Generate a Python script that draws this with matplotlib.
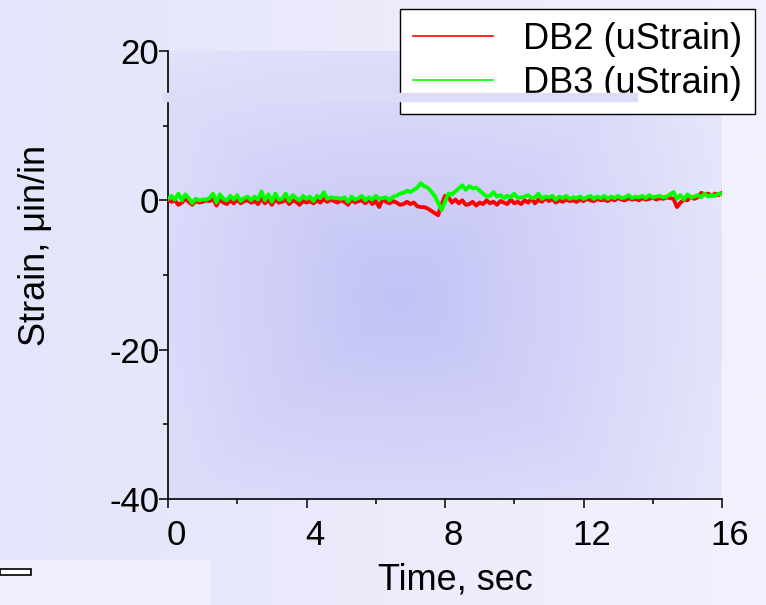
import numpy as np
import matplotlib
matplotlib.use('Agg')
import matplotlib.pyplot as plt
from matplotlib.patches import Rectangle
from matplotlib.transforms import ScaledTranslation

plt.rcParams['font.family'] = ['Liberation Sans', 'DejaVu Sans']
plt.rcParams['axes.unicode_minus'] = False

# strain readings, one row per second (0.1 s steps)
SAMPLE_STEP = 0.1
db2 = [
    0.1, -0.2, 0.0, -0.6, -0.3, 0.2, -0.2, -0.6, -0.1, -0.3,
    -0.2, 0.0, -0.1, 0.2, -0.7, 0.1, -0.3, -0.5, 0.0, -0.4,
    0.1, -0.4, -0.1, 0.0, -0.3, -0.1, -0.5, 0.3, -0.4, 0.1,
    -0.6, 0.2, -0.3, -0.2, 0.1, -0.5, 0.0, -0.2, -0.6, -0.1,
    -0.3, -0.1, -0.4, 0.0, -0.3, 0.2, -0.2, 0.1, -0.1, -0.3,
    0.0, -0.2, -0.6, 0.1, -0.3, -0.1, 0.0, -0.4, 0.1, -0.5,
    -0.1, -0.9, 0.2, -0.2, -0.4, -0.1, -0.3, -0.6, -0.5, -0.2,
    -0.5, -0.3, -0.8, -0.9, -0.9, -1.1, -1.4, -1.7, -2.0, -0.6,
    0.6, 0.4, -0.3, 0.1, -0.4, 0.0, -0.6, -0.5, -0.2, -0.7,
    -0.3, -0.5, 0.0, -0.4, -0.2, -0.6, -0.1, -0.3, -0.5, 0.1,
    -0.4, -0.2, -0.5, 0.0, -0.3, 0.2, -0.4, 0.1, -0.2, 0.3,
    -0.1, 0.2, -0.3, 0.0, -0.2, 0.1, -0.1, 0.0, -0.2, 0.1,
    -0.1, 0.2, 0.0, -0.1, 0.2, 0.0, 0.1, -0.1, 0.2, 0.0,
    0.3, 0.1, 0.0, 0.3, 0.1, 0.2, 0.0, 0.3, 0.1, 0.2,
    0.4, 0.1, 0.3, 0.2, 0.4, 0.3, 0.2, -0.9, -0.3, 0.1,
    0.0, 0.5, 0.2, 0.4, 1.0, 0.8, 0.9, 0.6, 0.9, 0.7,
    1.0,
]
db3 = [
    0.2, 0.6, 0.1, 0.9, 0.0, 0.8, 0.3, -0.4, 0.2, 0.0,
    0.1, 0.1, 0.3, 0.9, -0.3, 0.8, 0.2, 0.0, 0.6, 0.1,
    0.7, -0.1, 0.3, 0.5, 0.0, 0.5, 0.1, 1.2, 0.0, 0.8,
    -0.2, 0.9, 0.1, 0.2, 0.9, -0.1, 0.7, 0.3, 0.0, 0.6,
    0.2, 0.5, -0.1, 0.6, 0.3, 1.1, 0.2, 0.4, 0.3, 0.3,
    0.2, 0.4, -0.2, 0.5, 0.1, 0.3, 0.6, 0.0, 0.4, 0.1,
    0.6, 0.2, 0.3, 0.4, 0.0, 0.5, 0.6, 0.9, 1.0, 1.3,
    1.1, 1.4, 1.7, 2.3, 1.9, 1.7, 1.2, 0.6, -0.3, -1.3,
    -0.2, 0.9, 0.8, 1.2, 1.6, 2.0, 1.4, 1.9, 1.6, 1.7,
    1.3, 0.9, 0.5, 0.6, 1.1, 0.5, 0.7, 0.3, 0.6, 0.4,
    0.9, 0.3, 0.4, 0.5, 0.7, 0.3, 0.4, 0.9, 0.2, 0.5,
    0.4, 0.6, 0.1, 0.5, 0.3, 0.6, 0.2, 0.4, 0.3, 0.5,
    0.2, 0.4, 0.6, 0.2, 0.5, 0.3, 0.6, 0.2, 0.5, 0.3,
    0.6, 0.3, 0.4, 0.7, 0.3, 0.5, 0.4, 0.6, 0.3, 0.7,
    0.4, 0.5, 0.6, 0.4, 0.5, 0.8, 1.1, 0.2, 0.7, 0.1,
    0.8, 0.4, 0.5, 0.7, 0.4, 0.9, 0.5, 0.7, 0.6, 0.9,
    0.8,
]
series_names = ['DB2 (uStrain)', 'DB3 (uStrain)']
x_ticks = [0, 4, 8, 12, 16]
x_minor = [2, 6, 10, 14]
y_ticks = [-40, -20, 0, 20]
y_minor = [-30, -10, 10]

W, H = 766, 605
fig = plt.figure(figsize=(W / 100, H / 100), dpi=100)

# slide background: soft left-to-right lavender wash
ax_bg = fig.add_axes([0, 0, 1, 1], zorder=-10)
u = np.linspace(0, 1, 300)[None, :]
left_c = np.array([228, 228, 250]) / 255
right_c = np.array([242, 242, 254]) / 255
bg = left_c + (right_c - left_c) * u[..., None]
bg = np.repeat(bg, 10, axis=0)
ax_bg.imshow(bg, aspect='auto', extent=(0, 1, 0, 1))
ax_bg.axis('off')

fig.add_artist(Rectangle((0, 0), 210 / W, 45 / H, transform=fig.transFigure,
                         color=(240 / 255, 240 / 255, 252 / 255), zorder=-5))
fig.add_artist(Rectangle((0, 30 / H), 31 / W, 6 / H, transform=fig.transFigure,
                         facecolor='white', edgecolor='black', lw=1.2, zorder=-4))

ax = fig.add_axes([168 / W, 106 / H, 554 / W, 448 / H], zorder=1)
ax.set_facecolor('none')

# plot-area gradient, boxy, darkest left of and below the middle
gx, gy = np.meshgrid(np.linspace(0, 1, 300), np.linspace(0, 1, 300))
dx = np.abs(gx - 0.42) / 0.62
dy = np.abs(gy - 0.45) / 0.70
d = 0.6 * np.maximum(dx, dy) + 0.4 * np.sqrt(dx ** 2 + dy ** 2)
d = np.clip(d, 0, 1)
c_mid = np.array([194, 194, 246]) / 255
c_edge = np.array([230, 230, 251]) / 255
grad = c_mid + (c_edge - c_mid) * d[..., None]
ax.imshow(grad, aspect='auto', origin='lower', extent=(0, 16, -40, 20), zorder=0)

t2 = np.arange(len(db2)) * SAMPLE_STEP
t3 = np.arange(len(db3)) * SAMPLE_STEP
l2, = ax.plot(t2, db2, color='#ff0000', lw=2.8, solid_joinstyle='round', zorder=3)
l3, = ax.plot(t3, db3, color='#00ff00', lw=2.8, solid_joinstyle='round', zorder=4)

ax.set_xlim(0, 16)
ax.set_ylim(-40, 20)
for s in ['top', 'right']:
    ax.spines[s].set_visible(False)
for s in ['left', 'bottom']:
    ax.spines[s].set_linewidth(1.2)
    ax.spines[s].set_color('black')

ax.set_xticks(x_ticks)
ax.set_xticks(x_minor, minor=True)
ax.set_yticks(y_ticks)
ax.set_yticks(y_minor, minor=True)
ax.tick_params(which='major', length=6.2, width=1.1, direction='out', labelsize=25)
ax.tick_params(which='minor', length=3.6, width=1.1, direction='out')
ax.tick_params(axis='x', which='major', pad=8)
ax.tick_params(axis='y', which='major', pad=0)
shift = ScaledTranslation(8 / 100, 0, fig.dpi_scale_trans)
for lbl in ax.get_xticklabels():
    lbl.set_transform(lbl.get_transform() + shift)

fig.text(455 / W, 1 - 580 / H, 'Time, sec', ha='center', va='center', fontsize=26)
fig.text(36 / W, 1 - 245 / H, 'Strain, μin/in', ha='center', va='center',
         rotation=90, fontsize=26)

leg = ax.legend([l2, l3], series_names, loc='upper right',
                bbox_to_anchor=(755 / W, 596 / H), bbox_transform=fig.transFigure,
                borderaxespad=0, fontsize=26, handlelength=2.2, handletextpad=0.83,
                borderpad=0.36, labelspacing=0.25, fancybox=False, framealpha=1,
                edgecolor='black', facecolor='white')
leg.get_frame().set_linewidth(1.0)
for ln in leg.get_lines():
    ln.set_linewidth(1.2)

# stray band crossing the axis and legend
fig.add_artist(Rectangle((163 / W, (H - 101) / H), (637 - 163) / W, 8 / H,
                         transform=fig.transFigure,
                         color=(220 / 255, 220 / 255, 248 / 255), zorder=20))

fig.savefig('out.png', dpi=100)
